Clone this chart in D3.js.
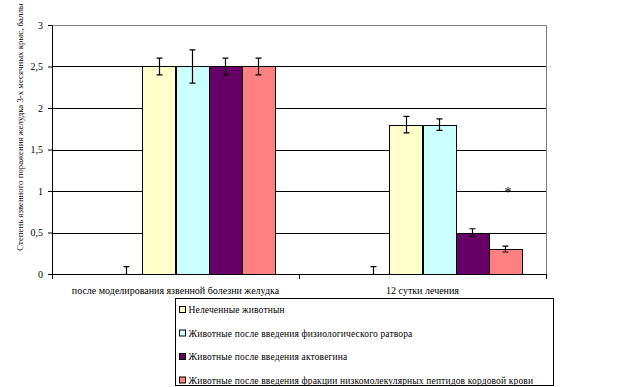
<!DOCTYPE html>
<html>
<head>
<meta charset="utf-8">
<script src="https://cdn.jsdelivr.net/npm/d3@7"></script>
<style>
  body { margin: 0; background: #fff; }
  svg text { font-family: "Liberation Serif", serif; fill: #000; }
</style>
</head>
<body>
<svg id="chart"></svg>
<script>
// categories and series
const categories = ["после моделирования язвенной болезни желудка", "12 сутки лечения"];
// first two series are empty placeholders (the second one keeps its error bar)
const seriesKeys = ["blank0", "blank1", "s1", "s2", "s3", "s4"];
const seriesNames = [
  "Нелеченные животнын",
  "Животные после введения физиологического ратвора",
  "Животные после введения актовегина",
  "Животные после введения фракции низкомолекулярных пептидов кордовой крови"
];
const seriesColors = ["none", "none", "#FFFFCC", "#CCFFFF", "#660066", "#FF8080"];
const values = [
  [0, 0, 2.5, 2.5, 2.5, 2.5],
  [0, 0, 1.8, 1.8, 0.5, 0.3]
];
const errors = [
  [0, 0.09, 0.1, 0.2, 0.1, 0.1],
  [0, 0.09, 0.1, 0.07, 0.045, 0.035]
];
const yTicks = [0, 0.5, 1, 1.5, 2, 2.5, 3];
const starMark = {category: 1, series: "s4", value: 1.03};

const W = 622, H = 387;
const margin = {top: 25, right: 76, bottom: 113, left: 52};
const width = W - margin.left - margin.right;
const height = H - margin.top - margin.bottom;

const svg = d3.select("#chart").attr("width", W).attr("height", H)
  .attr("font-family", "Liberation Serif");
const chart = svg.append("g").attr("transform", `translate(${margin.left},${margin.top})`);

const x0 = d3.scaleBand().domain(categories).range([0, width]).padding(0);
const x1 = d3.scaleBand().domain(seriesKeys).range([0, x0.bandwidth()])
  .paddingInner(0).paddingOuter(0.74);
const y = d3.scaleLinear().domain([0, 3]).range([height, 0]);

const fmt = d => String(d).replace(".", ",");

// plot frame (top/right grey)
chart.append("path")
  .attr("d", `M0,0.5H${width + 0.5}V${height}`)
  .attr("fill", "none").attr("stroke", "#808080");

// gridlines
chart.append("g").selectAll("line")
  .data(yTicks.filter(d => d > 0 && d < 3))
  .join("line")
  .attr("x1", 0).attr("x2", width)
  .attr("y1", d => Math.round(y(d)) + 0.5).attr("y2", d => Math.round(y(d)) + 0.5)
  .attr("stroke", "#000");

// bars
const groups = chart.append("g").selectAll("g")
  .data(categories)
  .join("g")
  .attr("transform", d => `translate(${x0(d)},0)`);

groups.selectAll("rect")
  .data((c, ci) => seriesKeys.map((k, si) => ({k, si, v: values[ci][si]})).filter(d => d.si >= 2))
  .join("rect")
  .attr("x", d => Math.round(x1(d.k)) + 0.5)
  .attr("width", Math.round(x1.bandwidth()))
  .attr("y", d => Math.round(y(d.v)) + 0.5)
  .attr("height", d => height - Math.round(y(d.v)))
  .attr("fill", d => seriesColors[d.si])
  .attr("stroke", "#000");

// error bars
groups.selectAll("path.err")
  .data((c, ci) => seriesKeys.map((k, si) => ({k, si, v: values[ci][si], e: errors[ci][si]})).filter(d => d.e > 0))
  .join("path")
  .attr("class", "err")
  .attr("fill", "none").attr("stroke", "#000").attr("stroke-width", 1.2)
  .attr("d", d => {
    const cx = Math.round(x1(d.k) + x1.bandwidth() / 2) + 0.5;
    const t = y(d.v + d.e), b = Math.min(y(d.v - d.e), height);
    let p = `M${cx - 3},${t}H${cx + 3}M${cx},${t}V${b}`;
    if (d.v - d.e >= 0) p += `M${cx - 3},${b}H${cx + 3}`;
    return p;
  });

// asterisk
chart.append("text")
  .attr("x", x0(categories[starMark.category]) + x1(starMark.series) + x1.bandwidth() / 2 + 3)
  .attr("y", y(starMark.value) + 8)
  .attr("text-anchor", "middle")
  .attr("font-size", 14)
  .text("*");

// y axis
const yAxis = chart.append("g")
  .call(d3.axisLeft(y).tickValues(yTicks).tickFormat(fmt).tickSize(4).tickSizeOuter(0));
yAxis.attr("font-family", null);
yAxis.select(".domain").attr("stroke", "#000");
yAxis.selectAll("text").attr("font-size", 10).attr("dx", -2);

// x axis
const xAxis = chart.append("g").attr("transform", `translate(0,${height})`);
xAxis.append("line").attr("x1", 0).attr("x2", width).attr("y1", 0.5).attr("y2", 0.5).attr("stroke", "#000");
xAxis.selectAll("line.tk")
  .data([0, ...categories.map(c => x0(c) + x0.bandwidth())])
  .join("line").attr("class", "tk")
  .attr("x1", d => d + 0.5).attr("x2", d => d + 0.5)
  .attr("y1", 0).attr("y2", 5).attr("stroke", "#000");
xAxis.selectAll("text")
  .data(categories)
  .join("text")
  .attr("x", d => x0(d) + x0.bandwidth() / 2)
  .attr("y", 20)
  .attr("text-anchor", "middle")
  .attr("font-size", 10)
  .text(d => d);

// y title
svg.append("text")
  .attr("transform", "translate(23,127) rotate(-90)")
  .attr("text-anchor", "middle")
  .attr("font-size", 8.8)
  .text("Степень язвенного поражения желудка 3-х месячных крыс, баллы");

// legend
const legend = svg.append("g").attr("transform", "translate(175.5,298.5)");
legend.append("rect")
  .attr("width", 378).attr("height", 87)
  .attr("fill", "#fff").attr("stroke", "#000");
const li = legend.selectAll("g.item")
  .data(seriesNames)
  .join("g").attr("class", "item")
  .attr("transform", (d, i) => `translate(4,${11 + i * 23.5})`);
li.append("rect")
  .attr("x", 0).attr("y", -3).attr("width", 6).attr("height", 6)
  .attr("fill", (d, i) => seriesColors[i + 2]).attr("stroke", "#000");
li.append("text")
  .attr("x", 9).attr("y", 3.5)
  .attr("font-size", 9.5)
  .attr("letter-spacing", 0.15)
  .text(d => d);
</script>
</body>
</html>
